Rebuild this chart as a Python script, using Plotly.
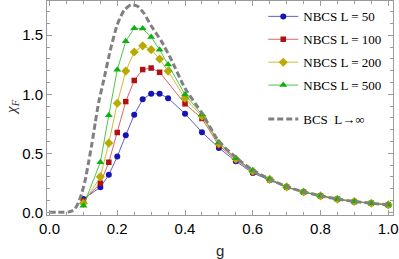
import plotly.graph_objects as go

# Data
g_pts = [0.1, 0.15, 0.175, 0.2, 0.225, 0.25, 0.275, 0.3, 0.325, 0.35, 0.4, 0.45,
         0.5, 0.55, 0.6, 0.65, 0.7, 0.75, 0.8, 0.85, 0.9, 0.95, 1.0]

chi_L50 = [0.113, 0.212, 0.317, 0.472, 0.652, 0.826, 0.958, 1.004, 1.004, 0.967, 0.835, 0.679,
           0.545, 0.432, 0.333, 0.274, 0.212, 0.170, 0.138, 0.110, 0.090, 0.076, 0.062]
chi_L100 = [0.098, 0.246, 0.424, 0.676, 0.938, 1.117, 1.209, 1.222, 1.186, None, 0.919, 0.795,
            0.565, 0.445, 0.343, 0.277, 0.214, 0.171, 0.139, 0.111, 0.091, 0.076, 0.063]
chi_L200 = [0.076, 0.300, 0.586, 0.924, 1.196, 1.358, 1.410, 1.378, 1.299, 1.196, 0.966, 0.815,
            0.580, 0.452, 0.348, 0.279, 0.215, 0.172, 0.139, 0.111, 0.091, 0.076, 0.063]
chi_L500 = [0.055, 0.424, 0.823, 1.207, 1.448, 1.560, 1.556, 1.485, 1.377, 1.252, 0.998, 0.829,
            0.591, 0.458, 0.353, 0.281, 0.216, 0.173, 0.140, 0.112, 0.091, 0.077, 0.063]

g_bcs = [0.0, 0.02, 0.04, 0.055, 0.065, 0.075, 0.085, 0.095, 0.105, 0.115, 0.125, 0.135, 0.145,
         0.16, 0.18, 0.2, 0.22, 0.24, 0.26, 0.28, 0.3, 0.33, 0.36, 0.4, 0.45, 0.5, 0.55,
         0.6, 0.65, 0.7, 0.75, 0.8, 0.85, 0.9, 0.95, 1.0]
chi_bcs = [0.0, 0.0, 0.0, 0.002, 0.01, 0.03, 0.08, 0.16, 0.27, 0.42, 0.58, 0.76, 0.93,
           1.12, 1.38, 1.59, 1.71, 1.757, 1.745, 1.68, 1.58, 1.45, 1.29, 1.05, 0.84, 0.60, 0.465,
           0.356, 0.281, 0.217, 0.174, 0.140, 0.112, 0.092, 0.077, 0.064]

x_ticks = [0.0, 0.2, 0.4, 0.6, 0.8, 1.0]
x_ticklabels = ["0.0", "0.2", "0.4", "0.6", "0.8", "1.0"]
y_ticks = [0.0, 0.5, 1.0, 1.5]
y_ticklabels = ["0.0", "0.5", "1.0", "1.5"]

series = [
    ("NBCS L = 50", chi_L50, "rgb(20,20,178)", "rgba(40,40,200,0.75)", "circle", 6),
    ("NBCS L = 100", chi_L100, "rgb(178,16,16)", "rgba(210,50,50,0.75)", "square", 5.5),
    ("NBCS L = 200", chi_L200, "rgb(186,170,0)", "rgba(190,175,0,0.8)", "diamond", 7),
    ("NBCS L = 500", chi_L500, "rgb(16,176,16)", "rgba(30,185,30,0.8)", "triangle-up", 7),
]

fig = go.Figure()
for i, (name, ys, mc, lc, sym, sz) in enumerate(series):
    fig.add_trace(go.Scatter(
        x=g_pts, y=ys, name=name, mode="lines+markers", connectgaps=True,
        line=dict(color=lc, width=1),
        marker=dict(color=mc, symbol=sym, size=sz, line=dict(width=0)),
        legend="legend", legendgroup="grp%d" % i,
    ))

fig.add_trace(go.Scatter(
    x=g_bcs, y=chi_bcs, name="BCS  L→∞", mode="lines",
    line=dict(color="rgb(128,128,128)", width=3, dash="6px,3px", shape="spline", smoothing=0.6),
    legend="legend2",
))

frame = "rgb(155,155,155)"
tickfont = dict(family="Liberation Sans, Arial", size=15, color="black")
axis_common = dict(
    showline=True, linecolor=frame, linewidth=1, mirror="ticks",
    ticks="inside", ticklen=5, tickcolor=frame, tickwidth=1,
    showgrid=False, zeroline=False, automargin=False,
    tickfont=tickfont,
)

fig.update_xaxes(
    range=[-0.0075, 1.014], tickvals=x_ticks, ticktext=x_ticklabels,
    minor=dict(dtick=0.05, tick0=0, ticks="inside", ticklen=3, tickcolor=frame, showgrid=False),
    **axis_common,
)
fig.update_yaxes(
    range=[-0.023, 1.79], tickvals=y_ticks, ticktext=y_ticklabels,
    minor=dict(dtick=0.1, tick0=0, ticks="inside", ticklen=3, tickcolor=frame, showgrid=False),
    **axis_common,
)

fig.add_annotation(text="g", xref="paper", yref="paper", x=0.5, y=-0.164,
                   xanchor="center", yanchor="middle", showarrow=False,
                   font=dict(family="Liberation Sans, Arial", size=15, color="rgb(40,40,40)"))
fig.add_annotation(text="<i>χ<sub>F</sub></i>", xref="paper", yref="paper", x=-0.101, y=0.505,
                   xanchor="center", yanchor="middle", showarrow=False, textangle=-90,
                   font=dict(family="Liberation Serif, Times New Roman", size=15, color="rgb(40,40,40)"))

legend_font = dict(family="Liberation Serif, Times New Roman", size=13, color="black")
fig.update_layout(
    width=399, height=259,
    margin=dict(l=47, r=6, t=1, b=44),
    paper_bgcolor="white", plot_bgcolor="white",
    showlegend=True,
    legend=dict(x=0.625, xanchor="left", y=0.998, yanchor="top", font=legend_font,
                bgcolor="rgba(0,0,0,0)", traceorder="grouped", tracegroupgap=3, itemwidth=30),
    legend2=dict(x=0.625, xanchor="left", y=0.519, yanchor="top", font=legend_font,
                 bgcolor="rgba(0,0,0,0)", itemwidth=30),
)

fig.write_html("out.html", config={"displayModeBar": False},
               post_script="document.body.style.margin='0';document.body.style.padding='0';")
